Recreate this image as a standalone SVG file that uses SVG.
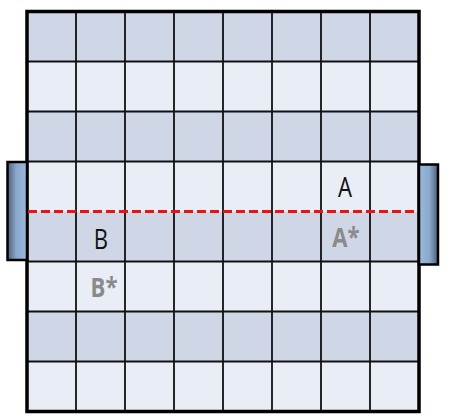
<svg xmlns="http://www.w3.org/2000/svg" width="450" height="420" viewBox="0 0 450 420">
  <defs>
    <linearGradient id="barL" x1="0" y1="0" x2="1" y2="0">
      <stop offset="0" stop-color="#4e5f78"/>
      <stop offset="0.45" stop-color="#8aa7cc"/>
      <stop offset="1" stop-color="#9bb8dd"/>
    </linearGradient>
    <linearGradient id="barR" x1="1" y1="0" x2="0" y2="0">
      <stop offset="0" stop-color="#4e5f78"/>
      <stop offset="0.45" stop-color="#8aa7cc"/>
      <stop offset="1" stop-color="#9bb8dd"/>
    </linearGradient>
    <style>
      .dark { fill: #cfd7e6; }
      .light { fill: #e9edf5; }
      .grid { stroke: #111; stroke-width: 1.8; fill: none; }
      .lbl { font-family: "Open Sans", "Liberation Sans", sans-serif; font-size: 27px; text-anchor: middle; }
      .real { fill: #111; }
      .ghost { fill: #8a8a8a; font-weight: bold; }
    </style>
  </defs>

  <g id="board">
    <rect class="dark" x="27" y="11.5" width="392" height="50"/>
    <rect class="light" x="27" y="61.5" width="392" height="50"/>
    <rect class="dark" x="27" y="111.5" width="392" height="50"/>
    <rect class="light" x="27" y="161.5" width="392" height="50"/>
    <rect class="dark" x="27" y="211.5" width="392" height="50"/>
    <rect class="light" x="27" y="261.5" width="392" height="50"/>
    <rect class="dark" x="27" y="311.5" width="392" height="50"/>
    <rect class="light" x="27" y="361.5" width="392" height="50"/>
    <path class="grid" d="M76 11.5V411.5M125 11.5V411.5M174 11.5V411.5M223 11.5V411.5M272 11.5V411.5M321 11.5V411.5M370 11.5V411.5M27 61.5H419M27 111.5H419M27 161.5H419M27 261.5H419M27 311.5H419M27 361.5H419"/>
    <rect x="27" y="11.5" width="392" height="400" fill="none" stroke="#000" stroke-width="3.5"/>
  </g>

  <g id="bar-left">
    <rect x="7.5" y="162" width="19.5" height="98" fill="url(#barL)" stroke="#000" stroke-width="2.5"/>
  </g>
  <g id="bar-right">
    <rect x="419" y="164.5" width="19" height="100" fill="url(#barR)" stroke="#000" stroke-width="2.5"/>
  </g>

  <g id="connectors">
    <line x1="28" y1="211.5" x2="418" y2="211.5" stroke="#ee1111" stroke-width="3.2" stroke-dasharray="9 4"/>
  </g>

  <g id="label-A"><text class="lbl real" transform="translate(345 197) scale(0.82 1)">A</text></g>
  <g id="label-A-star"><text class="lbl ghost" transform="translate(346 247) scale(0.82 1)">A*</text></g>
  <g id="label-B"><text class="lbl real" transform="translate(101 249) scale(0.82 1)">B</text></g>
  <g id="label-B-star"><text class="lbl ghost" transform="translate(104 297) scale(0.82 1)">B*</text></g>
</svg>
